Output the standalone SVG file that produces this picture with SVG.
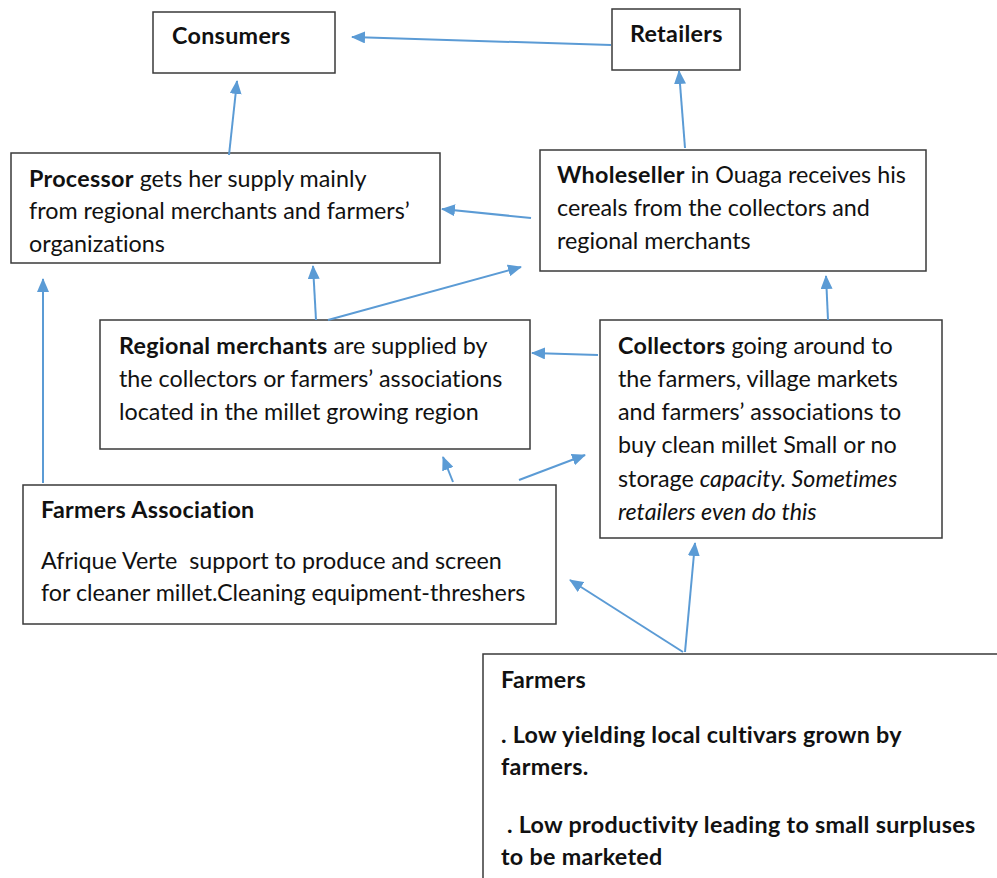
<svg xmlns="http://www.w3.org/2000/svg" width="997" height="878" viewBox="0 0 997 878">
<style>
.box{fill:#fff;stroke:#3a3a3a;stroke-width:1.5}
text{font-family:Lato,"Open Sans",sans-serif;font-size:23.3px;fill:#111;white-space:pre;font-variant-ligatures:none}
.b{font-weight:bold;letter-spacing:0.3px}
.i{font-style:italic}
.c line{stroke:#5b9bd5;stroke-width:2;marker-end:url(#ah)}
</style>
<defs>
<marker id="ah" markerUnits="userSpaceOnUse" markerWidth="14" markerHeight="12" refX="13" refY="6" orient="auto">
<path d="M0,0 L14,6 L0,12 Z" fill="#5b9bd5"/>
</marker>
</defs>
<rect width="997" height="878" fill="#fff"/>
<g id="consumers"><rect class="box" x="153" y="12" width="182" height="61"/><text class="b" x="172" y="44">Consumers</text></g>
<g id="retailers"><rect class="box" x="612" y="9" width="128" height="61"/><text class="b" x="630" y="42">Retailers</text></g>
<g id="processor"><rect class="box" x="11" y="153" width="429" height="110"/>
<text x="29" y="187"><tspan class="b">Processor</tspan> gets her supply mainly</text>
<text x="29" y="219">from regional merchants and farmers’</text>
<text x="29" y="252">organizations</text></g>
<g id="wholeseller"><rect class="box" x="540" y="150" width="386" height="121"/>
<text x="557" y="183"><tspan class="b">Wholeseller</tspan> in Ouaga receives his</text>
<text x="557" y="216">cereals from the collectors and</text>
<text x="557" y="249">regional merchants</text></g>
<g id="regional"><rect class="box" x="100" y="320" width="430" height="129"/>
<text x="119" y="354"><tspan class="b">Regional merchants</tspan> are supplied by</text>
<text x="119" y="387">the collectors or farmers’ associations</text>
<text x="119" y="420">located in the millet growing region</text></g>
<g id="collectors"><rect class="box" x="600" y="320" width="342" height="218"/>
<text x="618" y="354"><tspan class="b">Collectors</tspan> going around to</text>
<text x="618" y="387">the farmers, village markets</text>
<text x="618" y="420">and farmers’ associations to</text>
<text x="618" y="453">buy clean millet Small or no</text>
<text x="618" y="487">storage <tspan class="i">capacity. Sometimes</tspan></text>
<text x="618" y="520" class="i">retailers even do this</text></g>
<g id="farmersassoc"><rect class="box" x="23" y="485" width="533" height="139"/>
<text class="b" x="41" y="518">Farmers Association</text>
<text x="41" y="569">Afrique Verte  support to produce and screen</text>
<text x="41" y="601">for cleaner millet.Cleaning equipment-threshers</text></g>
<g id="farmers"><rect class="box" x="483" y="654" width="520" height="230"/>
<text class="b" x="501" y="688">Farmers</text>
<text class="b" x="501" y="743">. Low yielding local cultivars grown by</text>
<text class="b" x="501" y="775">farmers.</text>
<text class="b" x="501" y="833"> . Low productivity leading to small surpluses</text>
<text class="b" x="501" y="865">to be marketed</text></g>
<g id="connectors" class="c">
<line x1="611" y1="45" x2="352" y2="37"/>
<line x1="229" y1="155" x2="237" y2="81"/>
<line x1="685" y1="148" x2="679" y2="71"/>
<line x1="531" y1="218" x2="442" y2="209"/>
<line x1="316" y1="320" x2="313" y2="266"/>
<line x1="328" y1="320" x2="521" y2="267"/>
<line x1="828" y1="320" x2="826" y2="276"/>
<line x1="598" y1="355" x2="532" y2="353"/>
<line x1="43" y1="483" x2="43" y2="279"/>
<line x1="453" y1="482" x2="443" y2="457"/>
<line x1="519" y1="480" x2="585" y2="455"/>
<line x1="683" y1="652" x2="570" y2="580"/>
<line x1="685" y1="652" x2="695" y2="543"/>
</g>
</svg>
